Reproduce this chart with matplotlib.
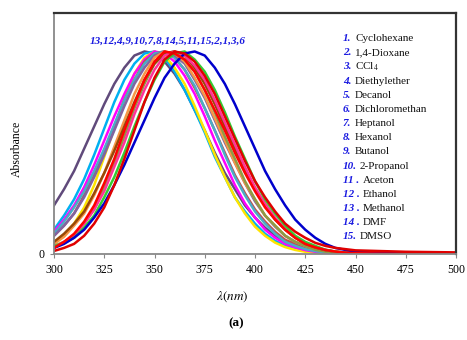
import matplotlib
matplotlib.use("Agg")
import matplotlib.pyplot as plt

plt.rcParams['font.family'] = 'serif'
plt.rcParams['font.serif'] = ['Liberation Serif', 'DejaVu Serif']
plt.rcParams['mathtext.fontset'] = 'stix'

wavelength = [300, 305, 310, 315, 320, 325, 330, 335, 340, 345,
              350, 355, 360, 365, 370, 375, 380, 385, 390, 395,
              400, 405, 410, 415, 420, 425, 430, 435, 440, 445,
              450, 475, 500]

# normalised absorbance of each solvent
cyclohexane = [0.015, 0.03, 0.05, 0.09, 0.15, 0.23, 0.34, 0.47, 0.61, 0.75,
               0.87, 0.96, 1.00, 0.99, 0.95, 0.88, 0.79, 0.68, 0.57, 0.46,
               0.36, 0.28, 0.21, 0.15, 0.11, 0.08, 0.055, 0.04, 0.03, 0.024,
               0.018, 0.011, 0.008]
dioxane = [0.03, 0.06, 0.09, 0.15, 0.22, 0.31, 0.43, 0.55, 0.69, 0.81,
           0.91, 0.98, 1.00, 0.98, 0.93, 0.86, 0.76, 0.65, 0.54, 0.43,
           0.33, 0.25, 0.18, 0.125, 0.085, 0.055, 0.035, 0.021, 0.012, 0.007,
           0.004, 0, 0]
ccl4 = [0.035, 0.055, 0.08, 0.13, 0.19, 0.28, 0.38, 0.50, 0.63, 0.75,
        0.86, 0.95, 0.99, 1.00, 0.96, 0.90, 0.81, 0.70, 0.58, 0.47,
        0.36, 0.27, 0.20, 0.14, 0.09, 0.06, 0.04, 0.021, 0.012, 0.007,
        0.004, 0, 0]
diethylether = [0.05, 0.09, 0.15, 0.23, 0.34, 0.48, 0.62, 0.77, 0.89, 0.97,
                1.00, 0.98, 0.92, 0.84, 0.73, 0.61, 0.49, 0.38, 0.28, 0.20,
                0.135, 0.09, 0.056, 0.034, 0.02, 0.011, 0.006, 0.003, 0.001, 0,
                0, 0, 0]
decanol = [0.03, 0.06, 0.10, 0.16, 0.24, 0.35, 0.47, 0.61, 0.74, 0.86,
           0.95, 1.00, 0.99, 0.96, 0.90, 0.81, 0.71, 0.61, 0.50, 0.40,
           0.31, 0.23, 0.17, 0.12, 0.08, 0.05, 0.033, 0.020, 0.012, 0.007,
           0.004, 0, 0]
dichloromethan = [0.03, 0.05, 0.08, 0.12, 0.18, 0.25, 0.34, 0.44, 0.55, 0.66,
                  0.77, 0.87, 0.94, 0.99, 1.00, 0.98, 0.92, 0.84, 0.74, 0.63,
                  0.52, 0.41, 0.32, 0.24, 0.17, 0.12, 0.08, 0.05, 0.03, 0.02,
                  0.011, 0.001, 0]
heptanol = [0.10, 0.16, 0.23, 0.31, 0.41, 0.52, 0.64, 0.76, 0.86, 0.94,
            0.99, 1.00, 0.97, 0.91, 0.83, 0.72, 0.61, 0.49, 0.38, 0.29,
            0.21, 0.15, 0.10, 0.06, 0.04, 0.024, 0.014, 0.008, 0.004, 0.002,
            0.001, 0, 0]
hexanol = [0.09, 0.14, 0.20, 0.28, 0.38, 0.49, 0.61, 0.73, 0.84, 0.92,
           0.98, 1.00, 0.98, 0.94, 0.86, 0.77, 0.66, 0.55, 0.45, 0.35,
           0.26, 0.19, 0.135, 0.09, 0.06, 0.04, 0.024, 0.014, 0.008, 0.005,
           0.003, 0, 0]
butanol = [0.11, 0.17, 0.24, 0.33, 0.44, 0.56, 0.68, 0.79, 0.89, 0.96,
           1.00, 0.99, 0.95, 0.88, 0.79, 0.68, 0.56, 0.45, 0.34, 0.25,
           0.18, 0.12, 0.08, 0.05, 0.033, 0.019, 0.011, 0.006, 0.003, 0.002,
           0.001, 0, 0]
propanol2 = [0.09, 0.14, 0.20, 0.29, 0.39, 0.51, 0.63, 0.76, 0.86, 0.95,
             0.99, 1.00, 0.97, 0.91, 0.82, 0.72, 0.61, 0.50, 0.39, 0.30,
             0.22, 0.16, 0.11, 0.07, 0.05, 0.028, 0.017, 0.010, 0.006, 0.003,
             0.001, 0, 0]
aceton = [0.04, 0.06, 0.09, 0.15, 0.22, 0.33, 0.45, 0.58, 0.72, 0.84,
          0.94, 0.99, 1.00, 0.96, 0.90, 0.81, 0.70, 0.58, 0.47, 0.36,
          0.27, 0.19, 0.14, 0.09, 0.06, 0.04, 0.021, 0.012, 0.007, 0.004,
          0.002, 0, 0]
ethanol = [0.12, 0.19, 0.27, 0.37, 0.49, 0.62, 0.75, 0.86, 0.94, 0.99,
           1.00, 0.97, 0.90, 0.81, 0.71, 0.60, 0.48, 0.38, 0.28, 0.21,
           0.15, 0.10, 0.065, 0.04, 0.025, 0.015, 0.008, 0.005, 0.002, 0.001,
           0.001, 0, 0]
methanol = [0.24, 0.32, 0.41, 0.52, 0.63, 0.74, 0.84, 0.92, 0.98, 1.00,
            0.99, 0.95, 0.89, 0.81, 0.71, 0.61, 0.50, 0.40, 0.32, 0.24,
            0.18, 0.13, 0.09, 0.06, 0.04, 0.025, 0.015, 0.009, 0.005, 0.003,
            0.001, 0, 0]
dmf = [0.05, 0.085, 0.14, 0.20, 0.29, 0.40, 0.53, 0.66, 0.79, 0.89,
       0.97, 1.00, 0.99, 0.95, 0.87, 0.78, 0.67, 0.56, 0.45, 0.35,
       0.27, 0.19, 0.14, 0.09, 0.06, 0.04, 0.023, 0.014, 0.008, 0.004,
       0.002, 0, 0]
dmso = [0.06, 0.10, 0.15, 0.21, 0.30, 0.40, 0.51, 0.63, 0.75, 0.86,
        0.94, 0.99, 1.00, 0.98, 0.92, 0.84, 0.74, 0.63, 0.52, 0.41,
        0.32, 0.24, 0.17, 0.12, 0.08, 0.05, 0.032, 0.019, 0.011, 0.006,
        0.003, 0, 0]

solvent_names = ['Cyclohexane', '1,4-Dioxane', 'CCl$_4$', 'Diethylether', 'Decanol',
                 'Dichloromethan', 'Heptanol', 'Hexanol', 'Butanol', '2-Propanol',
                 'Aceton', 'Ethanol', 'Methanol', 'DMF', 'DMSO']
solvent_nums = ['1.', '2.', '3.', '4.', '5.', '6.', '7.', '8.', '9.', '10.',
                '11 .', '12 .', '13 .', '14 .', '15.']
peak_order = '13,12,4,9,10,7,8,14,5,11,15,2,1,3,6'
xticks = [300, 325, 350, 375, 400, 425, 450, 475, 500]

# (series, colour) in drawing order
curves = [
    (methanol, '#604A7B'),
    (ethanol, '#00B0F0'),
    (diethylether, '#FFE400'),
    (butanol, '#FF00FF'),
    (propanol2, '#C0504D'),
    (heptanol, '#4BACC6'),
    (hexanol, '#8064A2'),
    (dmf, '#F79646'),
    (aceton, '#8E9B45'),
    (dmso, '#984807'),
    (dioxane, '#FF3399'),
    (ccl4, '#33CC33'),
    (dichloromethan, '#0000CC'),
    (decanol, '#FF0000'),
    (cyclohexane, '#E00000'),
]

W, H = 467, 340
fig = plt.figure(figsize=(W / 100, H / 100), dpi=100)
ax = fig.add_axes([54 / W, 86 / H, 402 / W, 241 / H])

for ys, col in curves:
    ax.plot(wavelength, ys, color=col, lw=1.8, solid_joinstyle='round')

ax.set_xlim(300, 500)
ax.set_ylim(0, 1.19)
ax.set_xticks(xticks)
ax.set_yticks([0])
ax.tick_params(labelsize=8.5, length=3, color='#888888', pad=4)

for side in ['top', 'right']:
    ax.spines[side].set_color('#333333')
    ax.spines[side].set_linewidth(1.6)
for side in ['left', 'bottom']:
    ax.spines[side].set_color('#888888')
    ax.spines[side].set_linewidth(1.3)

blue = '#1A1AE0'
ax.text(0.282, 0.884, peak_order, transform=ax.transAxes, color=blue,
        fontsize=8, fontweight='bold', style='italic', ha='center', va='center')

for i, (num, name) in enumerate(zip(solvent_nums, solvent_names)):
    y = 1 - (38.5 + 14.175 * i) / H
    fig.text(343 / W, y, num, color=blue, fontsize=8, fontweight='bold',
             style='italic', va='center')
    nx = 355 if i < 9 else (363 if 10 <= i <= 13 else 360)
    fig.text(nx / W, y, name, color='#111111', fontsize=8, va='center')

fig.text(17 / W, 1 - 149 / H, 'Absorbance', rotation=90, fontsize=8.5,
         ha='center', va='center')
fig.text(232 / W, 1 - 297 / H, r'$\lambda(nm)$', fontsize=9.5,
         ha='center', va='center')
fig.text(236 / W, 1 - 323 / H, '(a)', fontsize=9.5, fontweight='bold',
         ha='center', va='center')

fig.savefig('out.png', dpi=100)
